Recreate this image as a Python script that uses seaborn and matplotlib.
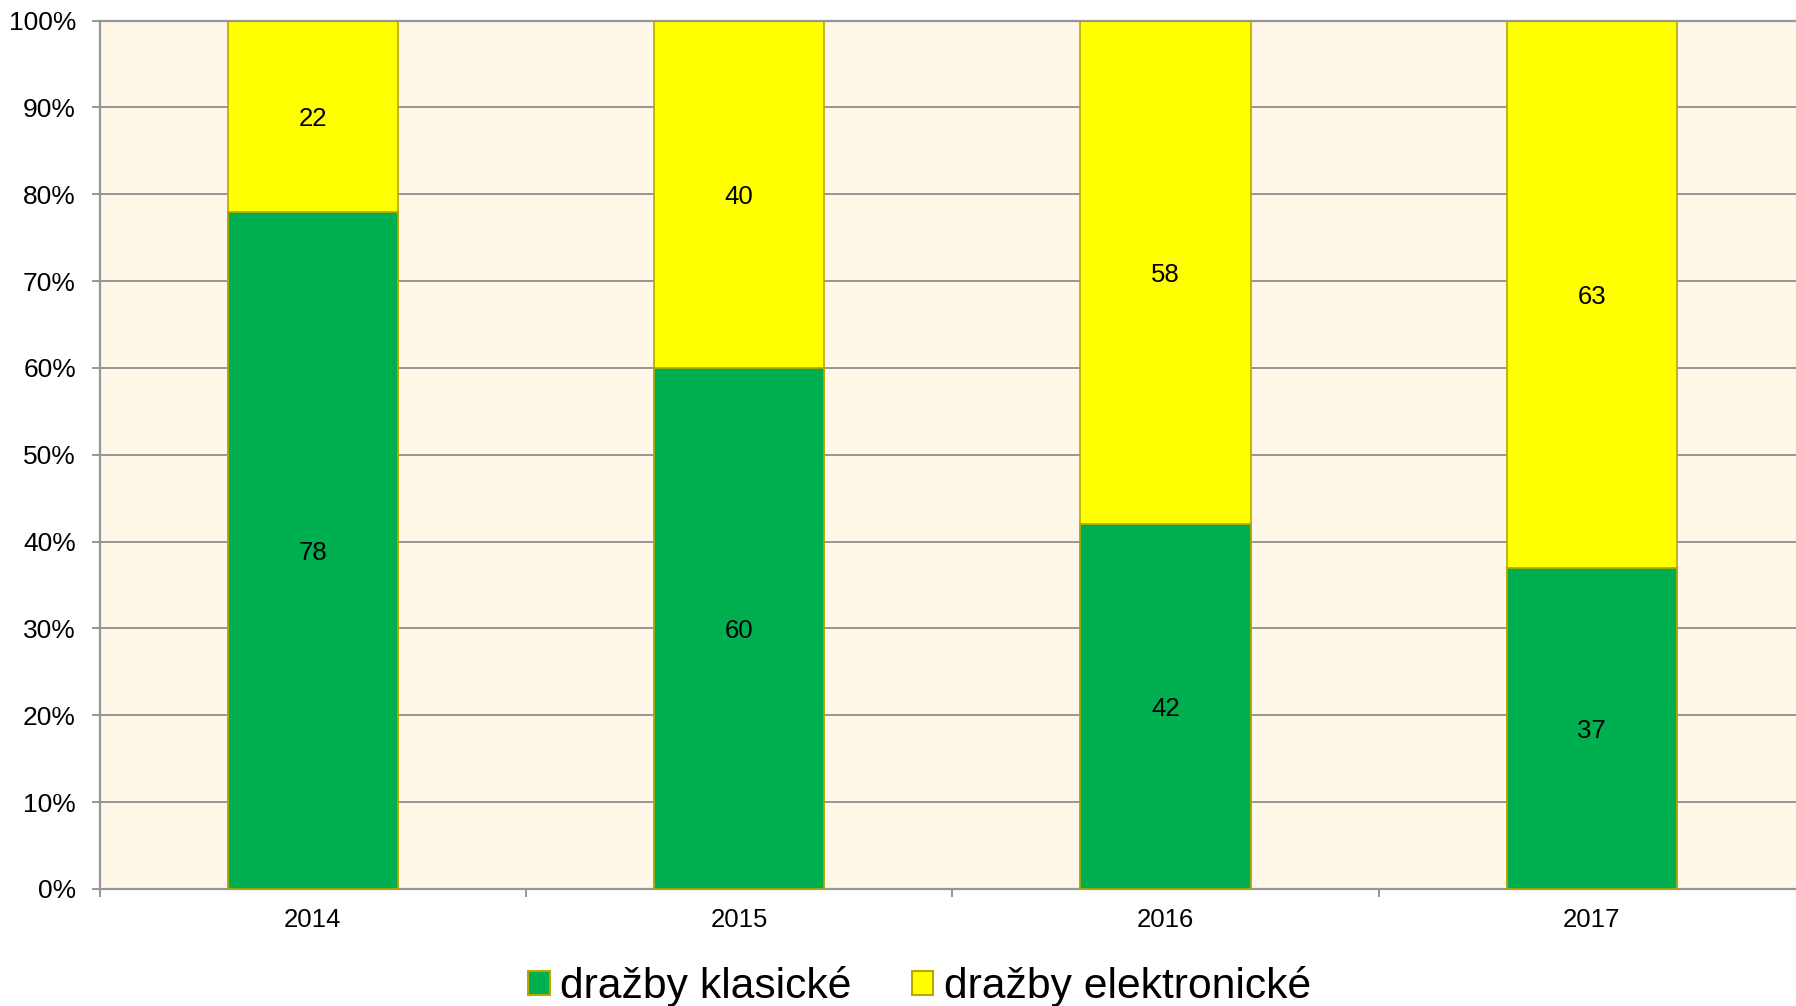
import matplotlib
matplotlib.use("Agg")
import matplotlib.pyplot as plt
import matplotlib.patches as mpatches
import seaborn as sns
import pandas as pd

years = ["2014", "2015", "2016", "2017"]
klasicke = [78, 60, 42, 37]
elektronicke = [22, 40, 58, 63]
series_names = ["dražby klasické", "dražby elektronické"]
ytick_vals = list(range(0, 101, 10))

GREEN = "#00B050"
YELLOW = "#FFFF00"
EDGE = "#BBA600"
BG = "#FFF7E7"
GRID = "#969696"

sns.set_theme(style="white")
plt.rcParams["font.family"] = ["Liberation Sans", "DejaVu Sans"]
plt.rcParams["text.color"] = "black"
plt.rcParams["xtick.labelcolor"] = "black"
plt.rcParams["ytick.labelcolor"] = "black"

fig = plt.figure(figsize=(17.96, 10.06), dpi=100)
ax = fig.add_axes([99.6 / 1796, 117 / 1006, (1805 - 99.6) / 1796, (889 - 20.6) / 1006])
ax.set_facecolor(BG)

df = pd.DataFrame({"year": years, "klas": klasicke, "elek": elektronicke})
df["total"] = df["klas"] + df["elek"]

sns.barplot(data=df, x="year", y="total", order=years, color=YELLOW, saturation=1,
            width=0.4, edgecolor=EDGE, linewidth=1.2, ax=ax, zorder=2)
sns.barplot(data=df, x="year", y="klas", order=years, color=GREEN, saturation=1,
            width=0.4, edgecolor=EDGE, linewidth=1.2, ax=ax, zorder=3)

for i, (k, e) in enumerate(zip(klasicke, elektronicke)):
    ax.text(i, k / 2, f"{k}", ha="center", va="center_baseline", fontsize=18.5, color="black", zorder=5)
    ax.text(i, k + e / 2, f"{e}", ha="center", va="center_baseline", fontsize=18.5, color="black", zorder=5)

ax.set_xlim(-0.5, len(years) - 0.5)
ax.set_ylim(0, 100)
ax.set_yticks(ytick_vals)
ax.set_yticklabels([f"{v}%" for v in ytick_vals], fontsize=19, color="black")
ax.yaxis.grid(True, color=GRID, linewidth=1.4)
ax.xaxis.grid(False)
ax.set_axisbelow(True)

ax.set_xticks([i - 0.5 for i in range(len(years) + 1)])
ax.set_xticklabels([])
ax.set_xticks(range(len(years)), minor=True)
ax.set_xticklabels(years, minor=True, fontsize=18.5, color="black")
ax.tick_params(axis="x", which="major", length=6, width=1.4, color=GRID, direction="out", bottom=True)
ax.tick_params(axis="x", which="minor", length=0, pad=14)
ax.tick_params(axis="y", length=6, width=1.4, color=GRID, direction="out", left=True, pad=11)
ax.set_xlabel("")
ax.set_ylabel("")

for side in ["left", "bottom", "top"]:
    ax.spines[side].set_visible(True)
    ax.spines[side].set_color(GRID)
    ax.spines[side].set_linewidth(1.6)
ax.spines["right"].set_visible(False)

handles = [mpatches.Patch(facecolor=GREEN, edgecolor=EDGE, linewidth=1.5, label=series_names[0]),
           mpatches.Patch(facecolor=YELLOW, edgecolor=EDGE, linewidth=1.5, label=series_names[1])]
leg = fig.legend(handles=handles, loc="center", bbox_to_anchor=(0.512, 0.0195), ncol=2, frameon=False,
                 fontsize=30.7, handlelength=0.5, handleheight=0.5, handletextpad=0.25, columnspacing=1.4)
for t in leg.get_texts():
    t.set_color("black")

fig.savefig("out.png", dpi=100)
